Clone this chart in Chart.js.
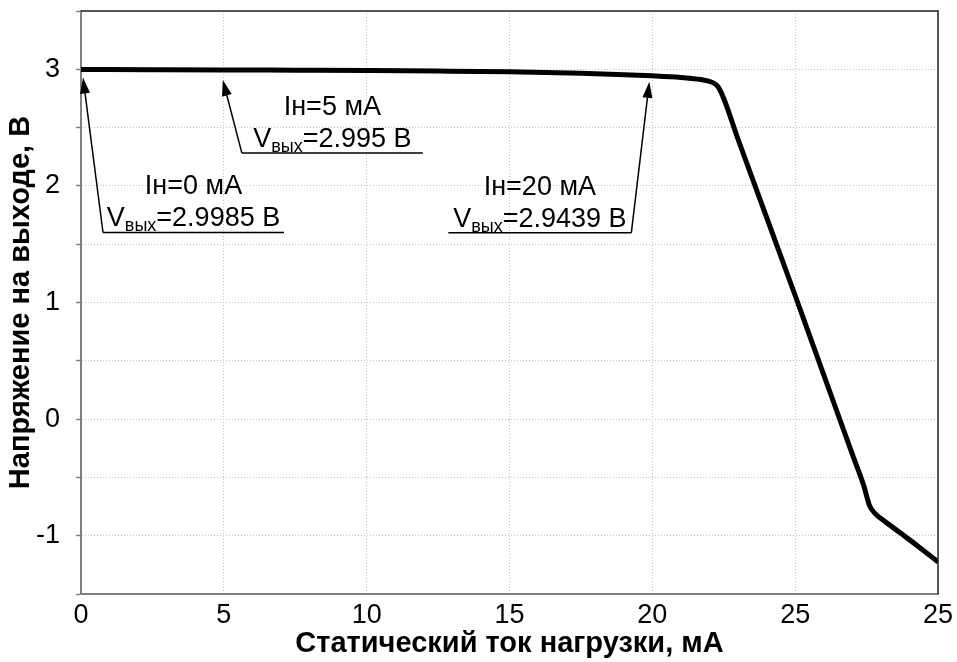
<!DOCTYPE html>
<html>
<head>
<meta charset="utf-8">
<script src="https://cdn.jsdelivr.net/npm/chart.js@4.4.1/dist/chart.umd.min.js"></script>
<style>
  html, body { margin: 0; padding: 0; background: #fff; }
  #wrap { width: 957px; height: 662px; position: relative; }
</style>
</head>
<body>
<div id="wrap"><canvas id="grafik"></canvas></div>
<script>
// load current, mA (the right edge is labelled "25" on the original as well)
const loadCurrent = [0, 2.5, 5, 7.5, 10, 12.5, 15, 17.5, 20, 21, 21.7, 22.1, 22.3, 22.5,
  23, 24, 25, 26, 27, 27.4, 27.6, 27.8, 28.1, 28.7, 29.3, 30];
// output voltage, V
const outVoltage = [2.9985, 2.997, 2.995, 2.992, 2.989, 2.985, 2.979, 2.967, 2.9439, 2.93,
  2.912, 2.888, 2.85, 2.75, 2.40, 1.73, 1.06, 0.38, -0.30, -0.57, -0.74, -0.81, -0.87,
  -0.98, -1.09, -1.225];

const xTickLabels = ['0', '5', '10', '15', '20', '25', '25'];
const yTickLabels = ['-1', '0', '1', '2', '3'];

// marked points
const markCurrent = [0, 5, 20];
const markVoltage = [2.9985, 2.995, 2.9439];
const markLoadText = ['Iн=0 мА', 'Iн=5 мА', 'Iн=20 мА'];
const markVoltText = ['=2.9985 В', '=2.995 В', '=2.9439 В'];

// callout geometry in px, relative to the marked point
const callouts = [
  { tip: [2, 8], corner: [22, 163], len: 181 },
  { tip: [-1, 10], corner: [18, 83], len: 181 },
  { tip: [-3, 6], corner: [-21, 157], len: -183 }
];

const FONT = "'Liberation Sans', Arial, sans-serif";

const framePlugin = {
  id: 'frame',
  afterDatasetsDraw(chart) {
    const { ctx, chartArea: a } = chart;
    ctx.save();
    ctx.strokeStyle = '#222';
    ctx.lineWidth = 1.5;
    ctx.beginPath();
    ctx.moveTo(a.left, a.top);
    ctx.lineTo(a.right, a.top);
    ctx.lineTo(a.right, a.bottom);
    ctx.stroke();
    ctx.restore();
  }
};

function drawArrow(ctx, x1, y1, x2, y2) {
  // line from (x1,y1) to tip (x2,y2) with filled head
  const ang = Math.atan2(y2 - y1, x2 - x1);
  const hl = 16, hw = 5;
  ctx.beginPath();
  ctx.moveTo(x1, y1);
  ctx.lineTo(x2 - Math.cos(ang) * hl * 0.8, y2 - Math.sin(ang) * hl * 0.8);
  ctx.stroke();
  ctx.beginPath();
  ctx.moveTo(x2, y2);
  ctx.lineTo(x2 - Math.cos(ang) * hl - Math.sin(ang) * hw, y2 - Math.sin(ang) * hl + Math.cos(ang) * hw);
  ctx.lineTo(x2 - Math.cos(ang) * hl + Math.sin(ang) * hw, y2 - Math.sin(ang) * hl - Math.cos(ang) * hw);
  ctx.closePath();
  ctx.fill();
}

const calloutPlugin = {
  id: 'callouts',
  afterDraw(chart) {
    const { ctx } = chart;
    const xs = chart.scales.x, ys = chart.scales.y;
    const big = '27px ' + FONT, small = '18px ' + FONT;
    ctx.save();
    ctx.strokeStyle = '#000';
    ctx.fillStyle = '#000';
    ctx.lineWidth = 1.5;
    markCurrent.forEach((cur, i) => {
      const c = callouts[i];
      const px = xs.getPixelForValue(cur);
      const py = ys.getPixelForValue(markVoltage[i]);
      const tx = px + c.tip[0], ty = py + c.tip[1];
      const cx = px + c.corner[0], cy = py + c.corner[1];
      const ex = cx + c.len;
      drawArrow(ctx, cx, cy, tx, ty);
      ctx.beginPath();
      ctx.moveTo(cx, cy);
      ctx.lineTo(ex, cy);
      ctx.stroke();

      const mid = (cx + ex) / 2;
      ctx.textBaseline = 'alphabetic';
      ctx.textAlign = 'left';
      // line 1
      ctx.font = big;
      const w1 = ctx.measureText(markLoadText[i]).width;
      ctx.fillText(markLoadText[i], mid - w1 / 2, cy - 38);
      // line 2 : V + subscript + value
      const wV = ctx.measureText('V').width;
      const wVal = ctx.measureText(markVoltText[i]).width;
      ctx.font = small;
      const wSub = ctx.measureText('вых').width;
      let x = mid - (wV + wSub + wVal) / 2;
      const base = cy - 6;
      ctx.font = big;
      ctx.fillText('V', x, base);
      x += wV;
      ctx.font = small;
      ctx.fillText('вых', x, base + 5);
      x += wSub;
      ctx.font = big;
      ctx.fillText(markVoltText[i], x, base);
    });
    ctx.restore();
  }
};

const ctx = document.getElementById('grafik');
new Chart(ctx, {
  type: 'line',
  data: {
    datasets: [{
      data: loadCurrent.map((x, i) => ({ x: x, y: outVoltage[i] })),
      borderColor: '#000',
      backgroundColor: '#000',
      borderWidth: 5,
      pointRadius: 0,
      fill: false,
      cubicInterpolationMode: 'monotone'
    }]
  },
  options: {
    responsive: true,
    maintainAspectRatio: false,
    animation: false,
    layout: { padding: { top: 11, right: 19, left: 0, bottom: 0 } },
    plugins: { legend: { display: false }, tooltip: { enabled: false } },
    scales: {
      x: {
        type: 'linear',
        min: 0,
        max: 30,
        afterFit(scale) {
          scale.height = 68;
          scale.paddingLeft = 0;
          scale.paddingRight = 0;
        },
        ticks: {
          stepSize: 5,
          padding: 5,
          color: '#000',
          font: { family: FONT, size: 27 },
          maxRotation: 0,
          callback: (v, idx) => xTickLabels[idx]
        },
        grid: { color: '#c4c4c4', drawTicks: false },
        border: { color: '#808080', width: 2, dash: [1, 2] },
        title: {
          display: true,
          text: 'Статический ток нагрузки, мА',
          color: '#000',
          font: { family: FONT, size: 29, weight: 'bold' },
          padding: { top: 0, bottom: 1 }
        }
      },
      y: {
        min: -1.5,
        max: 3.5,
        afterFit(scale) {
          scale.width = 81;
          scale.paddingTop = 0;
          scale.paddingBottom = 0;
        },
        ticks: {
          stepSize: 0.5,
          padding: 16,
          color: '#000',
          font: { family: FONT, size: 27 },
          callback: (v) => Number.isInteger(v) ? yTickLabels[v + 1] : ''
        },
        grid: { color: '#c4c4c4', tickLength: 5, tickColor: '#808080', tickBorderDash: [], tickWidth: 1.5 },
        border: { color: '#808080', width: 2, dash: [1, 2] },
        title: {
          display: true,
          text: 'Напряжение на выходе, В',
          color: '#000',
          font: { family: FONT, size: 29, weight: 'bold' },
          padding: { top: 4, bottom: 0 }
        }
      }
    }
  },
  plugins: [framePlugin, calloutPlugin]
});
</script>
</body>
</html>
